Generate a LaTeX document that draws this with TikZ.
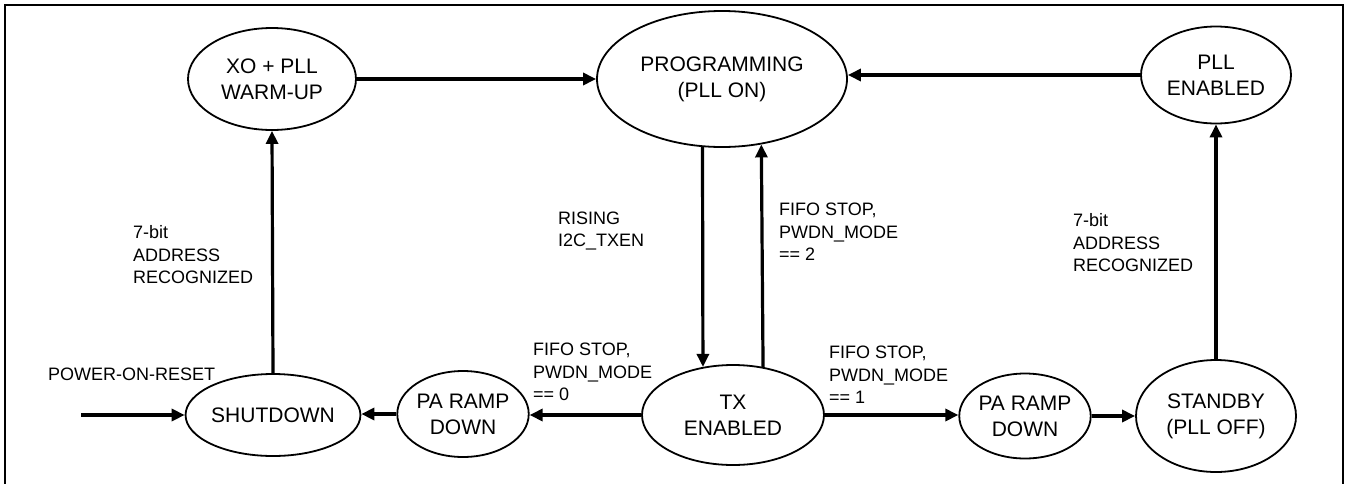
\documentclass[tikz,border=0pt]{standalone}
\usepackage{fontspec}
\setmainfont{Liberation Sans}
\usetikzlibrary{shapes.geometric,arrows.meta}
\begin{document}
\begin{tikzpicture}[x=1pt,y=-1pt,
  state/.style={draw,ellipse,line width=1.8pt,inner sep=0pt,align=center,
    font=\fontsize{21pt}{26pt}\selectfont},
  lbl/.style={anchor=west,inner sep=0pt,align=left,
    font=\fontsize{18pt}{22.5pt}\selectfont},
  arr/.style={line width=3.2pt,-{Triangle[length=13pt,width=12pt]}}]
\useasboundingbox (0,0) rectangle (1350,483);
\draw[line width=1.8pt] (5,490) -- (5,5) -- (1343,5) -- (1343,490);
% states
\node[state,minimum width=168pt,minimum height=102pt] (xo) at (272,79) {XO + PLL\\WARM-UP};
\node[state,minimum width=250pt,minimum height=136pt] (prog) at (722,79) {PROGRAMMING\\(PLL ON)};
\node[state,minimum width=150pt,minimum height=97pt] (pllen) at (1216,75) {PLL\\ENABLED};
\node[state,minimum width=156pt,minimum height=82pt] (shut) at (273,415) {SHUTDOWN};
\node[state,minimum width=114pt,minimum height=86pt] (pa1) at (463,414) {PA RAMP\\DOWN};
\node[state,minimum width=182pt,minimum height=100pt] (tx) at (733,415) {TX\\ENABLED};
\node[state,minimum width=114pt,minimum height=85pt] (pa2) at (1025,416) {PA RAMP\\DOWN};
\node[state,minimum width=160pt,minimum height=112pt] (stby) at (1216,416) {STANDBY\\(PLL OFF)};
% labels
\node[lbl] (l1) at (133,255) {7-bit\\ADDRESS\\RECOGNIZED};
\node[lbl] (l2) at (558,231) {RISING\\I2C\_TXEN};
\node[lbl] (l3) at (779,232) {FIFO STOP,\\PWDN\_MODE\\== 2};
\node[lbl] (l4) at (1073,243) {7-bit\\ADDRESS\\RECOGNIZED};
\node[lbl] (l5) at (533,372) {FIFO STOP,\\PWDN\_MODE\\== 0};
\node[lbl] (l6) at (829,375) {FIFO STOP,\\PWDN\_MODE\\== 1};
\node[lbl] (por) at (48,374) {POWER-ON-RESET};
\coordinate (entry) at (81,415);
% connectors
\draw[arr] (entry) -- (shut.west);
\draw[arr] (shut.north) -- (xo.south);
\draw[arr] (xo.east) -- (prog.west);
\draw[arr] (pllen.west) -- (prog.east |- pllen.west);
\draw[arr] (prog.254.2) -- (tx.122.4);
\draw[arr] (tx.58.5) -- (prog.301.8);
\draw[arr] (tx.west) -- (pa1.east |- tx.west);
\draw[arr] (pa1.west) -- (shut.east |- pa1.west);
\draw[arr] (tx.east) -- (pa2.west |- tx.east);
\draw[arr] (pa2.east) -- (stby.west |- pa2.east);
\draw[arr] (stby.north) -- (pllen.south);
\end{tikzpicture}
\end{document}
